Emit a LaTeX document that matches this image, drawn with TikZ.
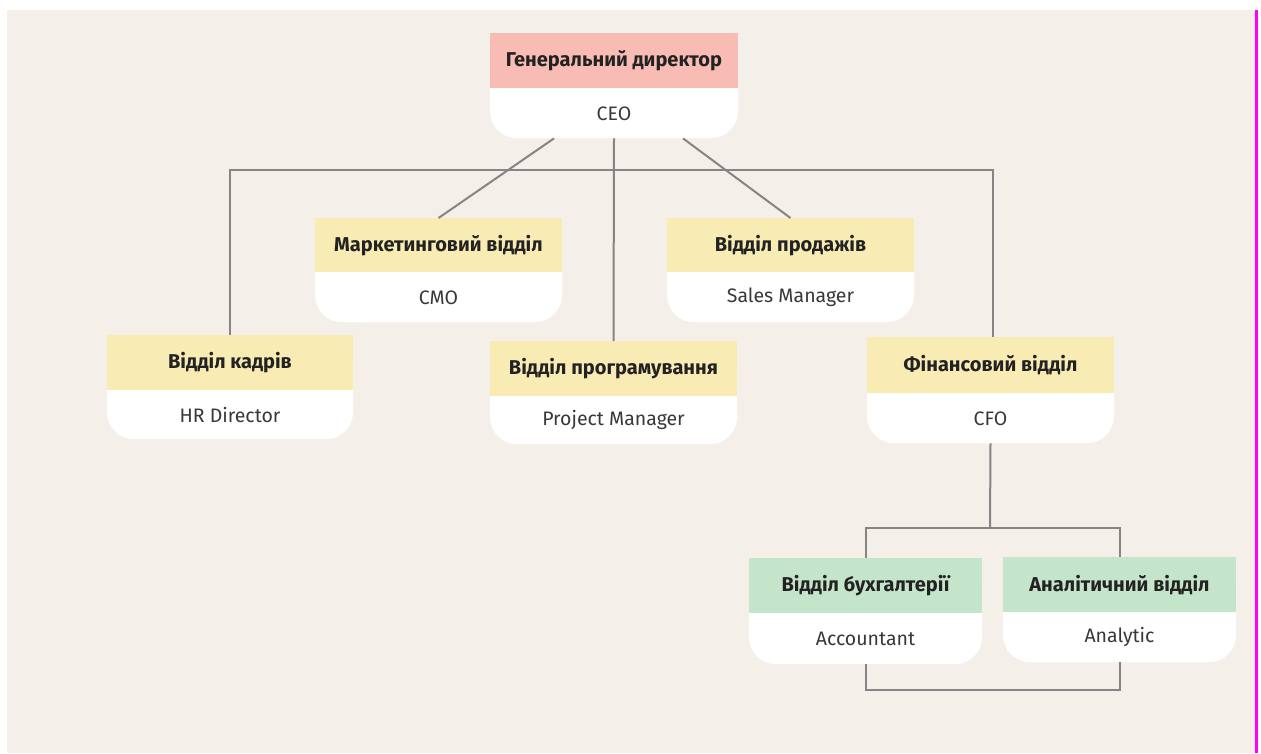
\documentclass[tikz,border=0pt]{standalone}
\usepackage{fontspec}
\setmainfont{Fira Sans}
\usetikzlibrary{calc}
\definecolor{bgc}{HTML}{F4EFE9}
\definecolor{pinkc}{HTML}{F9BCB5}
\definecolor{yelc}{HTML}{F8EBB4}
\definecolor{grnc}{HTML}{C5E5CB}
\definecolor{linec}{HTML}{858585}
\definecolor{txtc}{HTML}{222222}
\definecolor{magc}{HTML}{FF00FF}
\tikzset{
  boxbg/.style={fill=white, rounded corners=27pt, inner sep=0pt, draw=none},
  headbox/.style={inner sep=0pt, draw=none, text=txtc, font=\fontsize{20}{24}\selectfont\bfseries},
  subtext/.style={inner sep=0pt, text=txtc!90, font=\fontsize{19.5}{23}\selectfont},
  conn/.style={draw=linec, line width=2pt},
}
% name, cx, top, width, header height, total height, colour, head, sub
\newcommand\orgbox[9]{%
  \node[boxbg, minimum width=#4pt, minimum height=#6pt, anchor=north] (#1) at (#2,#3) {};
  \node[headbox, fill=#7, minimum width=#4pt, minimum height=#5pt, anchor=north] (#1h) at (#1.north) {#8};
  \node[subtext] (#1s) at ($(#1h.south)!0.5!(#1.south)$) {#9};
}
\begin{document}
\begin{tikzpicture}[x=1pt,y=-1pt]
\useasboundingbox (0,0) rectangle (1261,753);
\fill[white] (0,0) rectangle (1261,753);
\fill[bgc] (7,10) rectangle (1256,753);
\draw[magc, line width=2.2pt] (1256.5,10) -- (1256.5,753);

\coordinate (busy) at (614,170);
\coordinate (fj) at (990,528);

\orgbox{ceo}{614}{33}{248}{55}{105}{pinkc}{Генеральний директор}{CEO}
\orgbox{mkt}{438.5}{218}{247}{54}{104}{yelc}{Маркетинговий відділ}{CMO}
\orgbox{sales}{790.5}{218}{247}{54}{104}{yelc}{Відділ продажів}{Sales Manager}
\orgbox{hr}{230}{335}{246}{55}{104}{yelc}{Відділ кадрів}{HR Director}
\orgbox{prog}{613.5}{341}{247}{55}{103}{yelc}{Відділ програмування}{Project Manager}
\orgbox{fin}{990.5}{337}{247}{56}{106}{yelc}{Фінансовий відділ}{CFO}
\orgbox{acc}{865.5}{558}{233}{55}{106}{grnc}{Відділ бухгалтерії}{Accountant}
\orgbox{ana}{1119.5}{557}{233}{55}{105}{grnc}{Аналітичний відділ}{Analytic}

\draw[conn] ($(ceo.south)+(-60,0)$) -- (mkt.north);
\draw[conn] ($(ceo.south)+(69,0)$) -- (sales.north);
\draw[conn] (ceo.south) -- (prog.north);
\draw[conn] (hr.north) |- (busy) -| ($(fin.north)+(2.5,0)$);
\draw[conn] (fin.south) -- (fj);
\draw[conn] (acc.north) |- (fj) -| (ana.north);
\draw[conn] (acc.south) -- ++(0,26) -| (ana.south);
\end{tikzpicture}
\end{document}
